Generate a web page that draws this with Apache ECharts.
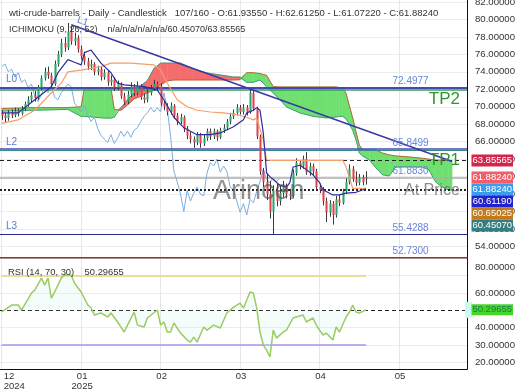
<!DOCTYPE html>
<html><head><meta charset="utf-8">
<script src="https://cdn.jsdelivr.net/npm/echarts@6.0.0/dist/echarts.min.js"></script>
<style>html,body{margin:0;padding:0;background:#fff}#c{width:520px;height:390px}</style>
</head><body><div id="c"></div>
<script>
// ---------- data ----------
const slotCount = 141;
const monthIdx = [0, 24, 48, 72, 96, 120];
const monthLabels = ['12\n2024', '01\n2025', '02', '03', '04', '05'];

const open = [69.3,69.0,68.7,69.3,69.0,69.5,69.2,69.8,70.3,70.8,71.3,71.0,72.2,73.3,74.0,73.6,72.6,74.9,76.0,77.3,76.8,78.6,77.5,77.9,76.6,75.8,75.2,74.6,74.9,74.0,74.3,73.4,73.9,72.8,73.1,72.2,72.6,71.2,70.6,71.4,72.3,71.6,72.4,71.1,70.8,71.6,72.1,72.6,72.3,70.4,70.0,69.4,70.1,69.0,68.3,68.8,67.5,66.7,66.3,65.9,66.8,65.8,66.4,67.2,66.6,67.2,66.5,67.3,67.6,68.3,68.9,69.3,69.9,69.4,69.9,69.4,71.6,69.8,66.6,62.6,61.4,60.0,58.0,60.4,59.2,60.1,60.8,60.0,59.8,62.4,63.6,63.2,64.0,62.5,63.2,62.6,60.8,60.5,59.2,57.9,58.9,57.6,59.4,59.0,60.3,61.4,62.9,61.7,61.3,61.9,61.9355];
const close = [69.0,68.7,69.3,69.0,69.5,69.2,69.8,70.3,70.8,71.3,71.0,72.2,73.3,74.0,73.6,72.6,74.9,76.0,77.3,76.8,78.6,77.5,77.9,76.6,75.8,75.2,74.6,74.9,74.0,74.3,73.4,73.9,72.8,73.1,72.2,72.6,71.2,70.6,71.4,72.3,71.6,72.4,71.1,70.8,71.6,72.1,72.6,72.3,70.4,70.0,69.4,70.1,69.0,68.3,68.8,67.5,66.7,66.3,65.9,66.8,65.8,66.4,67.2,66.6,67.2,66.5,67.3,67.6,68.3,68.9,69.3,69.9,69.4,69.9,69.4,71.6,69.8,66.6,62.6,61.4,60.0,58.0,60.4,59.2,60.1,60.8,60.0,59.8,62.4,63.6,63.2,64.0,62.5,63.2,62.6,60.8,60.5,59.2,57.9,58.9,57.6,59.4,59.0,60.3,61.4,62.9,61.7,61.3,61.9,61.4,61.8824];
const high = [69.6,69.3,69.6,69.7,69.9,69.8,70.1,70.6,71.2,71.7,71.8,72.5,73.6,74.5,74.6,73.9,75.3,76.4,77.8,78.0,79.6,79.2,78.5,78.2,77.0,76.3,75.6,75.4,75.1,74.7,74.6,74.3,74.1,73.6,73.4,73.0,72.8,71.6,71.8,72.8,72.6,72.9,72.6,71.5,72.0,72.5,73.1,72.9,72.7,70.8,70.4,70.5,70.3,69.3,69.2,69.0,67.8,67.1,66.6,67.1,67.0,66.8,67.5,67.5,67.5,67.4,67.6,68.0,68.6,69.3,69.7,70.3,70.2,70.3,70.2,72.0,71.8,70.0,66.8,63.0,62.4,61.5,61.0,61.2,61.0,61.5,61.2,60.6,62.8,64.1,63.9,64.4,64.8,63.6,63.5,62.9,61.2,60.8,59.6,59.3,59.2,59.8,59.9,60.6,61.8,63.4,63.2,62.6,62.3,62.2,62.6125];
const low = [68.5,68.2,68.4,68.7,68.8,68.9,69.0,69.5,70.0,70.5,70.6,70.8,71.9,73.0,73.2,72.2,72.4,74.6,75.7,76.3,76.5,77.1,77.0,76.2,75.4,74.8,74.2,74.2,73.6,73.6,73.0,73.1,72.4,72.4,71.8,71.9,70.9,70.2,70.3,71.1,71.2,71.3,70.8,70.4,70.5,71.3,71.8,71.9,70.1,69.6,69.0,69.1,68.6,67.9,68.0,67.1,66.3,65.8,65.3,65.6,65.3,65.5,66.1,66.2,66.3,66.1,66.3,67.0,67.3,68.0,68.6,69.0,69.1,69.1,69.0,69.2,69.5,66.3,62.2,60.8,59.3,57.2,55.43,58.6,58.7,59.6,59.5,59.3,59.6,62.1,62.8,62.9,62.2,62.1,62.2,60.4,60.1,58.7,56.8,57.4,56.5,57.3,58.6,58.8,60.0,61.1,61.4,60.9,61.0,61.0,61.0722];

const tenkanIdx = [0,5,10,15,17,20,22,24,25,27,30,33,35,37,43,47,49,52,55,59,63,66,70,73,74,76,77,78,79,80,81,84,86,87,88,90,92,94,96,97,100,102,104,107,110];
const tenkanVal = [69.3,69.3,70.8,72.3,73.9,75.4,75.1,74.8,76.2,76.5,75.0,73.9,72.7,72.5,72.3,71.9,70.8,68.8,67.6,66.8,66.8,67.0,67.7,68.5,69.3,69.6,69.9,69.6,67.0,62.4,62.0,61.0,60.8,61.3,63.1,63.3,62.8,62.2,61.3,60.5,59.9,59.9,60.1,60.2,60.6119];
const kijunIdx = [0,5,10,15,18,20,24,30,33,39,46,48,50,53,56,59,63,67,71,74,76,77,79,80,82,90,103,104,106,110];
const kijunVal = [68.1,68.5,69.6,71.6,72.7,74.0,74.2,74.6,75.0,75.0,74.8,74.2,72.7,70.8,70.0,69.6,69.4,69.3,69.1,68.8,68.5,68.7,66.2,63.9,63.86,63.86,63.86,63.1,60.65,60.65025];
const cloudIdx = [0,10,20,24,25,28,31,33,34,36,38,40,42,44,46,48,50,52,54,58,62,66,70,72,74,76,78,80,82,84,86,90,94,98,101,102,103,104,105,106,107,108,109,110,111,113,115,117,119,123,127,129,131,133,135,136];
const spanA = [69.5,69.6,69.7,68.9,68.9,68.8,68.7,68.7,68.8,69.9,70.8,71.6,72.4,73.0,74.4,75.0,75.0,75.0,75.0,74.3,73.87,73.64,73.41,73.4,72.8,72.8,73.07,72.3,71.58,70.8,69.98,69.3,68.9,68.72,68.83,68.9,68.9,68.6,68.0,67.3,66.2,64.7,64.36,64.13,63.9,63.0,62.2,62.07,63.1,63.1,63.1,62.76,61.4,60.8,60.45,60.4507];
const spanB = [69.8,69.9,69.9,70.0,72.15,72.15,72.15,72.15,69.7,69.6,70.2,70.9,71.2,71.6,71.9,72.5,72.96,73.07,73.07,73.07,73.07,73.07,73.07,73.1,73.9,73.9,73.8,73.6,72.3,72.27,72.27,72.27,72.27,72.27,72.27,72.2,72.15,71.5,70.1,68.7,67.1,65.6,65.05,65.05,65.05,65.05,64.7,64.48,64.36,64.25,64.1,64.0,63.9,63.86,63.86,63.85565];
const chikouShift = 26;

const rsiIdx = [0,3,5,6,9,10,12,13,14,15,16,18,19,21,22,24,26,27,28,30,32,33,35,37,38,40,41,43,44,47,48,49,50,51,52,54,56,57,58,59,61,62,64,66,68,70,72,73,75,76,77,78,79,80,81,82,83,85,86,88,89,91,92,94,95,97,98,100,101,102,104,105,106,107,108,110];
const rsiVal = [49.2,53.1,53.1,50.2,60.0,61.7,68.6,64.6,68.6,57.1,60.6,68.6,70.4,70.4,65.8,60.6,53.1,51.4,47.3,48.5,46.2,48.5,43.3,37.5,41.5,49.0,41.5,40.4,45.6,50.2,41.5,43.3,37.5,37.5,42.7,36.9,32.9,31.7,34.6,31.7,40.4,38.6,41.5,39.8,48.5,51.9,54.2,51.4,60.6,60.0,51.4,37.5,30.0,27.1,23.1,38.6,34.0,37.5,38.6,45.6,46.2,47.3,43.3,45.6,41.5,35.8,36.9,32.9,40.4,37.5,46.2,49.0,53.1,49.0,48.5,50.29655];

const priceTicks = [54,56,58,60,62,64,66,68,70,72,74,76,78,80,82];
const rsiTicks = [20,30,40,60,70,80];
const trendStart = [21, 79.39];
const trendEnd = [136, 63.72];
const levelL0 = 72.23, levelTP2 = 71.92, levelL2a = 65.14, levelL2b = 64.98;
const levelTP1 = 63.85565, lastPrice = 61.8824, levelAtPrice = 60.4507, levelL3 = 55.4288;
const rightLabelVals = [72.23, 65.14, 61.8824, 55.4288, 52.73];
const rightLabelTexts = ['72.4977', '65.8499', '61.8830', '55.4288', '52.7300'];
const boxVals = [63.85565, 61.8824, 61.8824, 60.6119, 60.65025, 60.4507];
const boxColors = ['#d3264c', '#ef5f69', '#3b9cee', '#2323cc', '#c27a1e', '#357d80'];
const rsiLast = 50.29655;

// ---------- helpers ----------
const FONT = 'Liberation Sans, Arial, sans-serif';
const cats = Array.from({length: slotCount}, (_, i) => 'b' + i);
const isMonth = (i) => monthIdx.indexOf(i) >= 0;
const pair = (idx, val) => idx.map((x, k) => [x, val[k]]);

const chart = echarts.init(document.getElementById('c'), null, {renderer: 'canvas', width: 520, height: 390});

function candleItem(params, api) {
  const i = api.value(0), o = api.value(1), c = api.value(2), l = api.value(3), h = api.value(4);
  const pO = api.coord([i, o]), pC = api.coord([i, c]), pL = api.coord([i, l]), pH = api.coord([i, h]);
  const w = api.size([1, 0])[0] * 0.62;
  const col = c >= o ? '#2ba66c' : '#e5404e';
  const xx = Math.round(pH[0]) + 0.5;
  return {type: 'group', children: [
    {type: 'line', shape: {x1: xx, y1: pH[1], x2: xx, y2: pL[1]}, style: {stroke: '#3a3a3a', lineWidth: 1}},
    {type: 'rect', shape: {x: xx - w / 2, y: Math.min(pO[1], pC[1]), width: w, height: Math.max(Math.abs(pO[1] - pC[1]), 1)}, style: {fill: col}}
  ]};
}

function cloudItem(params, api) {
  const k = params.dataIndex;
  if (k >= cloudIdx.length - 1) return null;
  const i0 = cloudIdx[k], i1 = cloudIdx[k + 1];
  const a0 = spanA[k], a1 = spanA[k + 1], b0 = spanB[k], b1 = spanB[k + 1];
  const d0 = b0 - a0, d1 = b1 - a1;
  const G = '#6fe06f', R = '#f46c6c';
  const polys = [];
  if (d0 * d1 < 0) {
    const t = d0 / (d0 - d1);
    const im = i0 + t * (i1 - i0), vm = a0 + t * (a1 - a0);
    polys.push({pts: [[i0, a0], [im, vm], [i0, b0]], g: d0 > 0});
    polys.push({pts: [[im, vm], [i1, a1], [i1, b1]], g: d1 > 0});
  } else {
    polys.push({pts: [[i0, a0], [i1, a1], [i1, b1], [i0, b0]], g: (d0 + d1) >= 0});
  }
  return {type: 'group', children: polys.map(p => ({
    type: 'polygon', shape: {points: p.pts.map(pt => api.coord(pt))},
    style: {fill: p.g ? G : R, stroke: p.g ? G : R, lineWidth: 0.5}
  }))};
}

const titleStyle = (fs) => ({fontSize: fs, fontWeight: 'normal', color: '#333', fontFamily: FONT});
const option = {
  animation: false,
  textStyle: {fontFamily: FONT},
  title: [
    {text: 'wti-crude-barrels - Daily - Candlestick   107/160 - O:61.93550 - H:62.61250 - L:61.07220 - C:61.88240', left: 9, top: 8, padding: 0, textStyle: titleStyle(9.5)},
    {text: 'ICHIMOKU (9, 26, 52)    n/a/n/a/n/a/n/a/60.45070/63.85565', left: 9, top: 25, padding: 0, textStyle: titleStyle(9)},
    {text: 'RSI (14, 70, 30)    50.29655', left: 8, top: 268, padding: 0, textStyle: titleStyle(9.4)}
  ],
  grid: [
    {left: 0, top: 0, width: 467, height: 257.5, containLabel: false, outerBoundsMode: 'none'},
    {left: 0, top: 258.4, width: 467, height: 110.9, containLabel: false, outerBoundsMode: 'none'}
  ],
  xAxis: [
    {type: 'category', gridIndex: 0, data: cats, boundaryGap: true,
     axisLine: {show: true, lineStyle: {color: '#6b4a3e'}}, axisTick: {show: false}, axisLabel: {show: false},
     splitLine: {show: true, interval: (i) => isMonth(i), alignWithLabel: true, lineStyle: {color: '#e6e6e6'}}},
    {type: 'category', gridIndex: 1, data: cats, boundaryGap: true,
     axisLine: {show: true, lineStyle: {color: '#111'}}, axisTick: {show: false},
     axisLabel: {show: true, interval: (i) => isMonth(i), formatter: (v, i) => monthLabels[monthIdx.indexOf(i)] || '',
                 color: '#333', fontSize: 9.5, lineHeight: 10, margin: 2, alignMinLabel: 'left', padding: [0, 0, 0, 2]},
     splitLine: {show: true, interval: (i) => isMonth(i), alignWithLabel: true, lineStyle: {color: '#e6e6e6'}}}
  ],
  yAxis: [
    {type: 'value', gridIndex: 0, position: 'right', min: 52.73, max: 82.23, scale: true,
     axisLine: {show: true, lineStyle: {color: '#111'}},
     axisTick: {show: false, customValues: priceTicks},
     axisLabel: {customValues: priceTicks, formatter: (v) => v.toFixed(5), color: '#333', fontSize: 9.6, margin: 8,
                 showMaxLabel: true, showMinLabel: true, hideOverlap: false},
     splitLine: {show: true, lineStyle: {color: '#ececec'}}},
    {type: 'value', gridIndex: 1, position: 'right', min: 16, max: 80,
     axisLine: {show: true, lineStyle: {color: '#111'}},
     axisTick: {show: false, customValues: rsiTicks},
     axisLabel: {customValues: rsiTicks, formatter: (v) => v === 80 ? '{d|80.00000}' : v.toFixed(5),
                 rich: {d: {padding: [17, 0, 0, 0], fontSize: 9.6, color: '#333'}},
                 color: '#333', fontSize: 9.6, margin: 8, showMaxLabel: true, showMinLabel: true, hideOverlap: false},
     splitLine: {show: true, lineStyle: {color: '#ececec'}}}
  ],
  series: [
    {type: 'custom', name: 'cloud', xAxisIndex: 0, yAxisIndex: 0, z: 1,
     renderItem: cloudItem, encode: {x: 0, y: [1, 2]},
     data: cloudIdx.map((x, k) => [x, spanA[k], spanB[k]])},
    {type: 'line', name: 'spanA', xAxisIndex: 0, yAxisIndex: 0, z: 2, showSymbol: false, symbol: 'none',
     data: pair(cloudIdx, spanA), lineStyle: {color: '#3f9c80', width: 1}},
    {type: 'line', name: 'spanB', xAxisIndex: 0, yAxisIndex: 0, z: 2, showSymbol: false, symbol: 'none',
     data: pair(cloudIdx, spanB), lineStyle: {color: '#b8643f', width: 1}},
    {type: 'line', name: 'levels', xAxisIndex: 0, yAxisIndex: 0, z: 3, data: [],
     markLine: {silent: true, symbol: 'none', animation: false,
       data: [
         {yAxis: levelL0, lineStyle: {color: '#4848b4', width: 2, type: 'solid'}, label: {show: true, position: 'insideStartTop', formatter: 'L0', color: '#5b78d2', fontSize: 10, distance: [6, 3]}},
         {yAxis: levelTP2, lineStyle: {color: '#3a9e62', width: 1.5, type: 'solid'}, label: {show: true, position: 'insideEndBottom', formatter: 'TP2', color: '#2e962e', fontSize: 17, distance: [7, 1]}},
         {yAxis: levelL2a, lineStyle: {color: '#4848b4', width: 1.5, type: 'solid'}, label: {show: true, position: 'insideStartTop', formatter: 'L2', color: '#5b78d2', fontSize: 10, distance: [6, 2]}},
         {yAxis: levelL2b, lineStyle: {color: '#3a8a8a', width: 1.2, type: 'solid'}, label: {show: false}},
         {yAxis: levelTP1, lineStyle: {color: '#222', width: 1, type: [4, 3]}, label: {show: true, position: 'insideEnd', formatter: 'TP1', color: '#2e962e', fontSize: 17, distance: 7}},
         {yAxis: lastPrice, lineStyle: {color: '#adadad', width: 1.5, type: 'solid'}, label: {show: false}},
         {yAxis: levelAtPrice, lineStyle: {color: '#222', width: 2, type: [2, 2]}, label: {show: true, position: 'insideEnd', formatter: 'At Price', color: 'rgba(110,110,110,0.8)', fontSize: 16, distance: 7}},
         {yAxis: levelL3, lineStyle: {color: '#2a2a8c', width: 1.2, type: 'solid'}, label: {show: true, position: 'insideStartTop', formatter: 'L3', color: '#5b78d2', fontSize: 10, distance: [6, 3]}},
         [{coord: trendStart, lineStyle: {color: '#3a3aa6', width: 1.5, type: 'solid'}, label: {show: true, position: 'insideStartTop', formatter: 'L1', color: '#5b78d2', fontSize: 10, distance: [4, 2]}},
          {coord: trendEnd}]
       ]
     },
     markPoint: {silent: true, symbol: 'circle', symbolSize: 0, animation: false,
       data: rightLabelVals.map((v, k) => ({coord: [118, v], name: rightLabelTexts[k]})),
       label: {show: true, position: 'top', distance: 1, align: 'left', formatter: (p) => p.name, color: '#6b86d8', fontSize: 10}}
    },
    {type: 'line', name: 'chikou', xAxisIndex: 0, yAxisIndex: 0, z: 4, showSymbol: false, symbol: 'none',
     data: close.map((c, i) => [i - chikouShift, c]).filter(d => d[0] >= 0), lineStyle: {color: '#79aee0', width: 1}},
    {type: 'custom', name: 'candles', xAxisIndex: 0, yAxisIndex: 0, z: 5,
     renderItem: candleItem, encode: {x: 0, y: [1, 2, 3, 4]},
     data: close.map((c, i) => [i, open[i], c, low[i], high[i]])},
    {type: 'line', name: 'kijun', xAxisIndex: 0, yAxisIndex: 0, z: 6, showSymbol: false, symbol: 'none',
     data: pair(kijunIdx, kijunVal), lineStyle: {color: '#f39f6b', width: 1.2}},
    {type: 'line', name: 'tenkan', xAxisIndex: 0, yAxisIndex: 0, z: 7, showSymbol: false, symbol: 'none',
     data: pair(tenkanIdx, tenkanVal), lineStyle: {color: '#2d2d9e', width: 1.2}},
    {type: 'line', name: 'rsi', xAxisIndex: 1, yAxisIndex: 1, z: 5, showSymbol: false, symbol: 'none',
     data: pair(rsiIdx, rsiVal), lineStyle: {color: '#9bcb62', width: 1.5},
     areaStyle: {origin: 50, color: 'rgba(205,246,238,0.3)'},
     markLine: {silent: true, symbol: 'none', animation: false, label: {show: false},
       data: [
         [{coord: [0, 70], lineStyle: {color: '#e2d77c', width: 1.5, type: 'solid'}}, {coord: [rsiIdx[rsiIdx.length - 1], 70]}],
         [{coord: [0, 30], lineStyle: {color: '#a796e6', width: 1.5, type: 'solid'}}, {coord: [rsiIdx[rsiIdx.length - 1], 30]}],
         {yAxis: 50, lineStyle: {color: '#222', width: 1, type: [4, 3]}},
         {yAxis: 80, lineStyle: {color: '#b48878', width: 1, type: 'solid'}}
       ]}
    }
  ]
};
chart.setOption(option);

// right-side value boxes, stacked so they do not overlap
const gr = [];
let prevY = -Infinity;
boxVals.forEach((v, k) => {
  let y = chart.convertToPixel({yAxisIndex: 0}, v);
  if (y < prevY + 12) y = prevY + 12;
  prevY = y;
  gr.push({type: 'rect', z: 100, shape: {x: 471.5, y: y - 6, width: 41.5, height: 12}, style: {fill: boxColors[k]}});
  gr.push({type: 'text', z: 101, x: 492.2, y: y, style: {text: v.toFixed(5), fill: '#fff', font: '9.5px ' + FONT, align: 'center', verticalAlign: 'middle', textAlign: 'center', textVerticalAlign: 'middle'}});
});
const ry = chart.convertToPixel({yAxisIndex: 1}, rsiLast);
gr.push({type: 'rect', z: 99, shape: {x: 465, y: ry - 8, width: 7, height: 16}, style: {fill: '#c8fbf8'}});
gr.push({type: 'rect', z: 100, shape: {x: 471.5, y: ry - 5.5, width: 41.5, height: 11}, style: {fill: '#45d626'}});
gr.push({type: 'text', z: 101, x: 492.2, y: ry, style: {text: rsiLast.toFixed(5), fill: '#1f7a5a', font: '9.5px ' + FONT, align: 'center', verticalAlign: 'middle', textAlign: 'center', textVerticalAlign: 'middle'}});
// watermark
gr.push({type: 'text', z: 50, x: 213, y: 192, style: {text: 'Arincen', fill: 'rgba(85,85,85,0.65)', font: '27px ' + FONT, align: 'left', verticalAlign: 'middle', textAlign: 'left', textVerticalAlign: 'middle'}});
chart.setOption({graphic: gr});
</script></body></html>
